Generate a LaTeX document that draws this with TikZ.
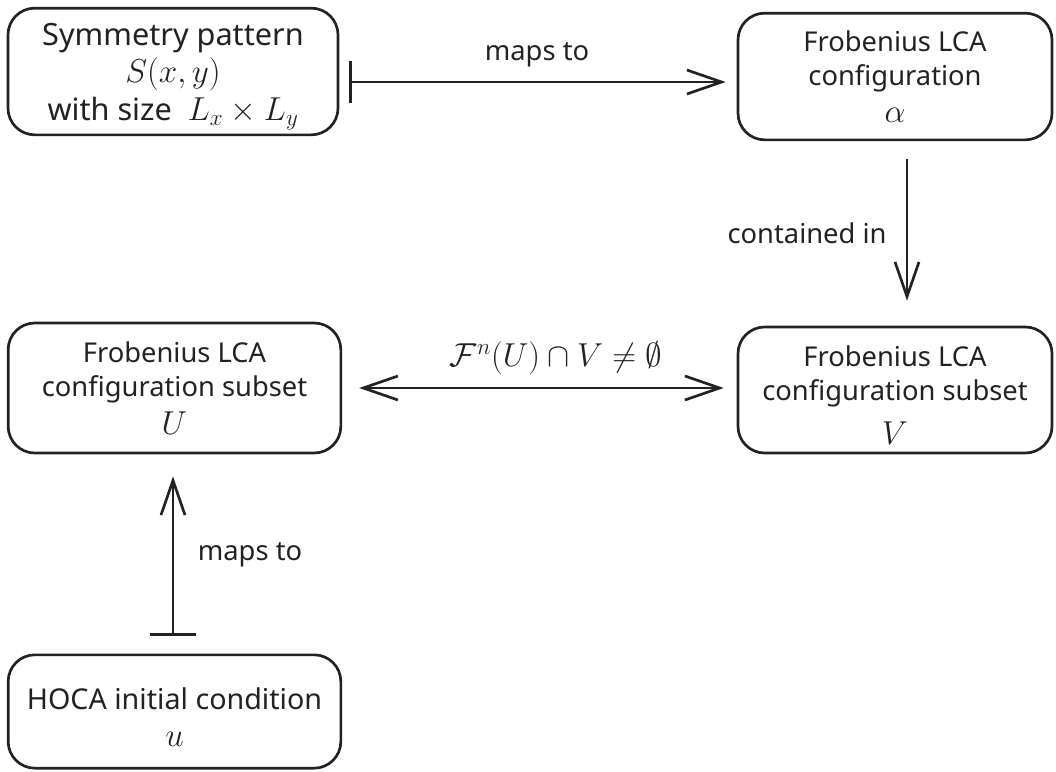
\documentclass[tikz,border=0pt]{standalone}
\usepackage[no-math]{fontspec}
\setmainfont{Noto Sans}
\usetikzlibrary{arrows.meta,calc}
\definecolor{ink}{HTML}{222222}
\newcommand\txtfont{\fontsize{20.5}{25.5}\selectfont}
\newcommand\symfont{\fontsize{23}{26.5}\selectfont}
\newcommand\hocafont{\fontsize{21.5}{25.5}\selectfont}
\newcommand\boxmath[1]{{\fontsize{24}{26}\selectfont$#1$}}
\newcommand\bigmath{\fontsize{23.5}{28}\selectfont}

\begin{document}
\begin{tikzpicture}[x=0.75pt,y=-0.75pt,
  stepbox/.style={draw=ink, line width=2pt, rounded corners=20pt,
    align=center, text=ink, font=\txtfont, inner sep=0pt},
  lbl/.style={text=ink, font=\txtfont, inner sep=0pt},
  conn/.style={draw=ink, line width=2pt},
  head/.style={-{Straight Barb[length=26pt,width=18pt]}},
  tailbar/.style={{Bar[width=#1]}-{Straight Barb[length=26pt,width=18pt]}}
]
\useasboundingbox (0,0) rectangle (1056,771);

% boxes
\node[stepbox, font=\symfont, minimum width=247.5pt, minimum height=95pt] (sym) at (173,71.5)
  {\rule{0pt}{24pt}Symmetry pattern\\[1.5pt] \boxmath{S(x,y)}\\[1.5pt] with size\ \ \boxmath{L_x\times L_y}};
\node[stepbox, minimum width=235.5pt, minimum height=95pt] (alpha) at (895,76.5)
  {Frobenius LCA\\ configuration\\[2pt] \boxmath{\alpha}};
\node[stepbox, minimum width=249.5pt, minimum height=97.5pt] (U) at (174.5,388)
  {Frobenius LCA\\ configuration subset\\[3pt] \boxmath{U}};
\node[stepbox, minimum width=235.5pt, minimum height=94.5pt] (V) at (895,390)
  {\rule{0pt}{23pt}Frobenius LCA\\ configuration subset\\[7pt] \boxmath{V}};
\node[stepbox, font=\hocafont, minimum width=249.5pt, minimum height=85pt] (hoca) at (174.5,711.5)
  {\rule{0pt}{25pt}HOCA initial condition\\[2pt] \boxmath{u}};

% connectors
\draw[conn, tailbar=32pt] ($(sym.east)+(10,10.5)$) -- ($(alpha.west)+(-11,5.5)$);
\draw[conn, head] ($(alpha.south)+(12,18)$) -- ($(V.north)+(12,-25)$);
\draw[conn, {Straight Barb[length=26pt,width=18pt]}-{Straight Barb[length=26pt,width=18pt]}]
  ($(U.east)+(17,0)$) -- ($(V.west)+(-13,-2)$);
\draw[conn, tailbar=34pt] ($(hoca.north)+(-1.5,-18)$) -- ($(U.south)+(-1.5,22)$);

% labels
\node[lbl] (m1) at (537,55) {maps to};
\node[lbl] (c1) at (807,233) {contained in};
\node[lbl] (f1) at (556,358) {\bigmath$\mathcal{F}^n(U)\cap V\neq\emptyset$};
\node[lbl] (m2) at (250,555) {maps to};
\end{tikzpicture}
\end{document}
